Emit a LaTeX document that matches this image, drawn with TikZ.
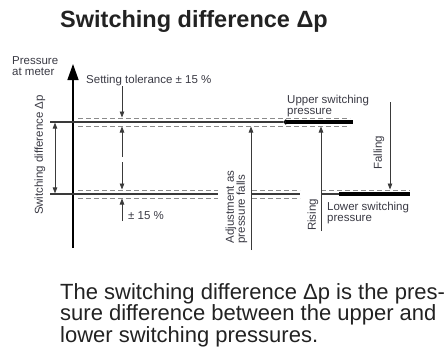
\documentclass[tikz,border=0pt]{standalone}
\usepackage{fontspec}
\setmainfont{Liberation Sans}
\usetikzlibrary{arrows.meta}
\definecolor{linec}{HTML}{3A3A3A}
\definecolor{dashc}{HTML}{8A8A8A}
\definecolor{textc}{HTML}{3A3A44}
\definecolor{headc}{HTML}{222222}
\begin{document}
\begin{tikzpicture}[x=1pt,y=-1pt,
  mainline/.style={draw=linec, line width=1.2pt},
  heavyline/.style={draw=black, line width=3.6pt},
  dashline/.style={draw=dashc, line width=0.9pt, dash pattern=on 5pt off 3pt},
  arrowline/.style={draw=linec, line width=0.8pt, -{Triangle[width=4.5pt,length=6pt]}},
  bothline/.style={draw=linec, line width=0.8pt, {Triangle[width=4.5pt,length=6pt]}-{Triangle[width=4.5pt,length=6pt]}},
  axisline/.style={draw=black, line width=1.3pt, -{Triangle[width=11pt,length=16pt]}},
  lbl/.style={font=\fontsize{11.5}{11}\selectfont, text=textc, inner sep=0pt},
  rlbl/.style={lbl, rotate=90},
  headline/.style={font=\fontsize{23.5}{26}\selectfont\bfseries, text=headc, inner sep=0pt},
  para/.style={font=\fontsize{22}{22}\selectfont, text=headc, inner sep=0pt}
]
\useasboundingbox (0,0) rectangle (447,362);

% title
\node[headline, anchor=base west] (title) at (60,27) {Switching difference Δp};

% axis
\coordinate (axB) at (73,248);
\coordinate (axT) at (73,64);
\draw[axisline] (axB) -- (axT);
\node[lbl, anchor=base west, align=left] (ylab) at (12,75) {Pressure\\at meter};

% upper switching level
\draw[dashline] (78,118) -- (350,118);
\draw[dashline] (78,126) -- (350,126);
\coordinate (uL) at (50,122);
\coordinate (uM) at (283,122);
\coordinate (uR) at (353,122);
\draw[mainline] (uL) -- (uM);
\draw[heavyline, {Triangle[width=5.5pt,length=3pt]}-] (uM) -- (uR);

% lower switching level
\draw[dashline] (78,190) -- (218,190);
\draw[dashline] (78,198) -- (218,198);
\draw[dashline] (252,190) -- (300,190);
\draw[dashline] (252,198) -- (300,198);
\draw[dashline] (321,190) -- (410,190);
\coordinate (lL) at (50,194);
\coordinate (lA) at (218,194);
\coordinate (lB) at (252,194);
\coordinate (lC) at (300,194);
\coordinate (lD) at (321,194);
\coordinate (lE) at (339,194);
\coordinate (lR) at (410,194);
\draw[mainline] (lL) -- (lA);
\draw[mainline] (lB) -- (lC);
\draw[mainline] (lD) -- (lE);
\draw[heavyline] (lE) -- (lR);

% switching difference
\coordinate (sdT) at (55,122.6);
\coordinate (sdB) at (55,193.4);
\draw[bothline] (sdB) -- (sdT);
\node[rlbl] (sdlab) at (40,155) {Switching difference Δp};

% setting tolerance
\node[lbl, anchor=base west] (tol) at (86,83) {Setting tolerance ± 15 \%};
\coordinate (t1) at (122,86);
\coordinate (t1e) at (122,117.5);
\coordinate (t2) at (122,157);
\coordinate (t2e) at (122,126.5);
\coordinate (t3) at (122,162);
\coordinate (t3e) at (122,189.5);
\coordinate (t4) at (122,221);
\coordinate (t4e) at (122,198.5);
\draw[arrowline] (t1) -- (t1e);
\draw[arrowline] (t2) -- (t2e);
\draw[arrowline] (t3) -- (t3e);
\draw[arrowline] (t4) -- (t4e);
\node[lbl, anchor=base west] (tol2) at (128,219) {± 15 \%};

% adjustment
\coordinate (adB) at (251,250);
\coordinate (adT) at (251,126.5);
\draw[arrowline] (adB) -- (adT);
\node[rlbl, align=left] (adlab) at (236.5,207) {Adjustment as\\pressure falls};

% rising
\coordinate (riB) at (321,231);
\coordinate (riT) at (321,126.5);
\draw[arrowline] (riB) -- (riT);
\node[rlbl] (rilab) at (313,215) {Rising};

% falling
\coordinate (faT) at (390,102);
\coordinate (faB) at (390,189.5);
\draw[arrowline] (faT) -- (faB);
\node[rlbl] (falab) at (379,153) {Falling};

% level labels
\node[lbl, anchor=base west, align=left] (uplab) at (287,114) {Upper switching\\pressure};
\node[lbl, anchor=base west, align=left] (lolab) at (327,221) {Lower switching\\pressure};

% paragraph
\node[para, anchor=base west] (p1) at (60,299) {The switching difference Δp is the pres-};
\node[para, anchor=base west] (p2) at (60,320.5) {sure difference between the upper and};
\node[para, anchor=base west] (p3) at (60,342) {lower switching pressures.};
\end{tikzpicture}
\end{document}
